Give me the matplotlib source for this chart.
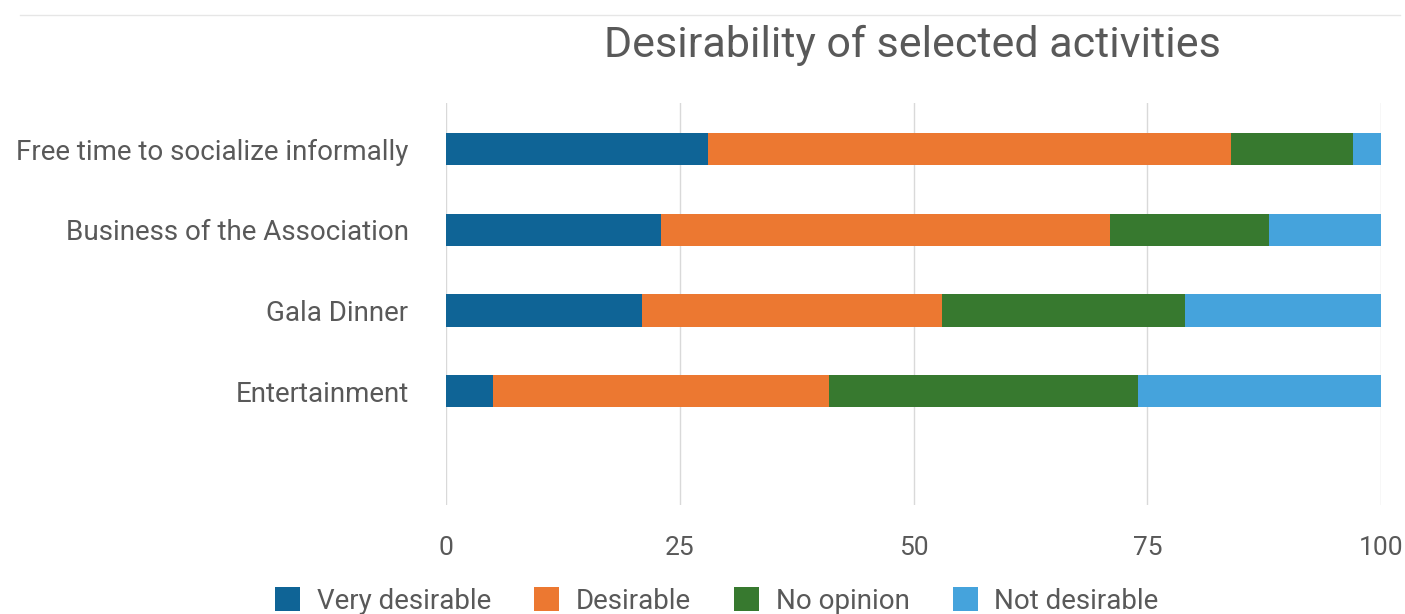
import matplotlib
matplotlib.use("Agg")
import matplotlib.pyplot as plt
from matplotlib.lines import Line2D

categories = ["Free time to socialize informally", "Business of the Association",
              "Gala Dinner", "Entertainment"]
series_names = ["Very desirable", "Desirable", "No opinion", "Not desirable"]
very_desirable = [28, 23, 21, 5]
desirable = [56, 48, 32, 36]
no_opinion = [13, 17, 26, 33]
not_desirable = [3, 12, 21, 26]
x_ticks = [0, 25, 50, 75, 100]
colors = ["#0F6496", "#EC7831", "#37792F", "#45A3DC"]

plt.rcParams['font.family'] = ['Roboto', 'DejaVu Sans']
txt = "#595959"

fig = plt.figure(figsize=(14.05, 6.14), dpi=100)
ax = fig.add_axes([446/1405, 1-505/614, (1381-446)/1405, (505-103)/614])

ypos = list(range(len(categories)))
left = [0]*len(categories)
for name, vals, c in zip(series_names, [very_desirable, desirable, no_opinion, not_desirable], colors):
    ax.barh(ypos, vals, left=left, height=0.4, color=c, label=name, zorder=3)
    left = [l + v for l, v in zip(left, vals)]

ax.set_xlim(0, 100)
ax.set_ylim(3 + 1.41, -0.57)
ax.set_xticks(x_ticks)
ax.set_xticklabels([str(t) for t in x_ticks])
ax.set_yticks(ypos)
ax.set_yticklabels(categories)
ax.tick_params(axis='both', length=0, colors=txt)
ax.tick_params(axis='x', pad=22, labelsize=19)
ax.tick_params(axis='y', pad=27, labelsize=20)
ax.grid(axis='x', color="#D9D9D9", linewidth=1, zorder=0)
for s in ax.spines.values():
    s.set_visible(False)

fig.text(912/1405, 1-45/614, "Desirability of selected activities", ha='center', va='center',
         fontsize=31, color=txt)

fig.add_artist(Line2D([20/1405, 1400/1405], [1-15/614, 1-15/614], color="#E6E6E6", linewidth=1))

leg = fig.legend(loc='center', bbox_to_anchor=(717/1405, 1-601/614), ncol=4, frameon=False,
                 fontsize=20, handlelength=0.9, handleheight=0.9, columnspacing=1.55,
                 handletextpad=0.6, borderpad=0)
for t in leg.get_texts():
    t.set_color(txt)

fig.savefig("out.png", dpi=100, facecolor="white")
